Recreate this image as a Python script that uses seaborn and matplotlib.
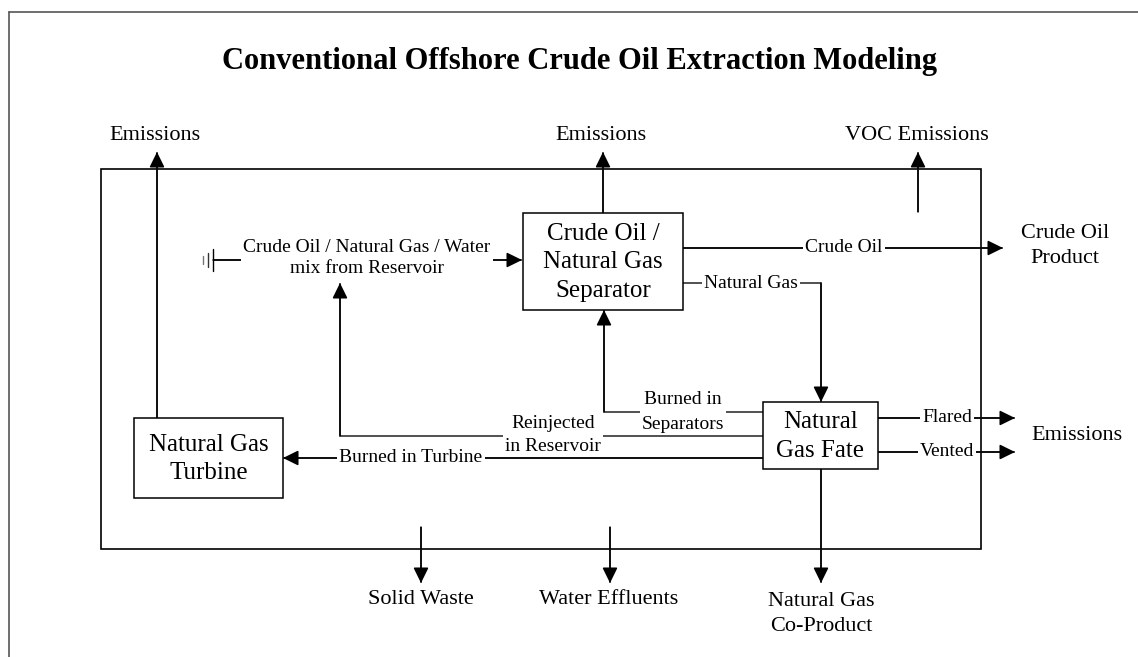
import matplotlib
matplotlib.use("Agg")
import matplotlib.pyplot as plt
import seaborn as sns
from matplotlib.patches import Rectangle

# -----------------------------
# Diagram content
# -----------------------------
title = "Conventional Offshore Crude Oil Extraction Modeling"

process_names = ["Crude Oil /\nNatural Gas\nSeparator", "Natural\nGas Fate", "Natural Gas\nTurbine"]

input_name = "Crude Oil / Natural Gas / Water\nmix from Reservoir"

flow_names = ["Crude Oil", "Natural Gas", "Burned in\nSeparators", "Reinjected\nin Reservoir",
              "Burned in Turbine", "Flared", "Vented"]

output_names = ["Emissions", "Emissions", "VOC Emissions", "Crude Oil\nProduct", "Emissions",
                "Solid Waste", "Water Effluents", "Natural Gas\nCo-Product"]

# -----------------------------
# Layout (pixel space, y down)
# -----------------------------
W, H = 1138, 657
frame = (101, 169, 981, 549)
boxes = {
    "sep": (523, 213, 683, 310),
    "fate": (763, 402, 878, 469),
    "turb": (134, 418, 283, 498),
}
box_keys = ["sep", "fate", "turb"]

LINE = "#222222"
LW = 1.1

sns.set_theme(style="white")
plt.rcParams["font.family"] = ["Liberation Serif", "DejaVu Serif"]
plt.rcParams["text.color"] = "black"

fig = plt.figure(figsize=(W / 100, H / 100), dpi=100)
ax = fig.add_axes([0, 0, 1, 1])
ax.set_xlim(0, W)
ax.set_ylim(H, 0)
ax.set_axis_off()


def poly(pts, z=2, color=LINE):
    xs = [p[0] for p in pts]
    ys = [p[1] for p in pts]
    ax.plot(xs, ys, color=color, lw=LW, zorder=z, solid_capstyle="butt")


def arrow(pts, z=2, color=LINE):
    poly(pts, z, color)
    ax.annotate("", xy=pts[-1], xytext=pts[-2],
                arrowprops=dict(arrowstyle="-|>,head_length=0.67,head_width=0.33",
                                mutation_scale=14, shrinkA=0, shrinkB=0,
                                color="black", lw=LW),
                zorder=z)


def label(x, y, s, size=14, z=3, bg=True, ls=1.2):
    bbox = dict(facecolor="white", edgecolor="none", pad=1.5) if bg else None
    ax.text(x, y, s, ha="center", va="center", fontsize=size, color="black",
            linespacing=ls, bbox=bbox, zorder=z)


# outer page frame (only top and left visible)
ax.plot([9, W], [12, 12], color="#555555", lw=1.2)
ax.plot([9, 9], [12, H], color="#555555", lw=1.2)

# title
ax.text(580, 61, title, ha="center", va="center", fontsize=22, fontweight="bold", color="black")

# system boundary
x0, y0, x1, y1 = frame
ax.add_patch(Rectangle((x0, y0), x1 - x0, y1 - y0, fill=False, ec="black", lw=1.2, zorder=1))

# process boxes
for key, name in zip(box_keys, process_names):
    bx0, by0, bx1, by1 = boxes[key]
    ax.add_patch(Rectangle((bx0, by0), bx1 - bx0, by1 - by0, facecolor="white",
                           ec="black", lw=1.1, zorder=8))
    ax.text((bx0 + bx1) / 2, (by0 + by1) / 2 + 1, name, ha="center", va="center",
            fontsize=18, linespacing=1.38, color="black", zorder=9)

# reservoir input with ground symbol
for gx, gh, gc in [(203, 8, "#777777"), (208, 14, "#333333"), (213, 22, "black")]:
    ax.plot([gx, gx], [260 - gh / 2, 260 + gh / 2], color=gc, lw=1.0)
arrow([(213, 260), (522, 260)])
label(367, 258, input_name, size=14, ls=1.27)

# separator outputs
arrow([(683, 248), (1003, 248)])
label(844, 248, flow_names[0])
arrow([(683, 283), (821, 283), (821, 402)])
label(751, 283, flow_names[1])

# natural gas fate splits
arrow([(763, 412), (604, 412), (604, 310)], z=2)
label(683, 412, flow_names[2], z=3, ls=1.55)
arrow([(763, 436), (340, 436), (340, 283)], z=4)
label(553, 435, flow_names[3], z=5, ls=1.45)
arrow([(763, 458), (283, 458)], z=6)
label(411, 458, flow_names[4], z=7)
arrow([(878, 418), (1015, 418)])
label(947, 418, flow_names[5])
arrow([(878, 452), (1015, 452)])
label(947, 452, flow_names[6])

# emissions leaving the system
arrow([(157, 418), (157, 152)])
arrow([(603, 213), (603, 152)])
arrow([(918, 212), (918, 152)])
label(155, 136, output_names[0], size=16, bg=False)
label(601, 136, output_names[1], size=16, bg=False)
label(917, 136, output_names[2], size=16, bg=False)
label(1065, 246, output_names[3], size=16, bg=False, ls=1.45)
label(1077, 435, output_names[4], size=16, bg=False)

# bottom outputs
arrow([(421, 527), (421, 583)])
arrow([(610, 527), (610, 583)])
arrow([(821, 469), (821, 583)])
label(421, 600, output_names[5], size=16, bg=False)
label(609, 600, output_names[6], size=16, bg=False)
label(821, 614, output_names[7], size=16, bg=False, ls=1.45)

plt.savefig("out.png", dpi=100)
